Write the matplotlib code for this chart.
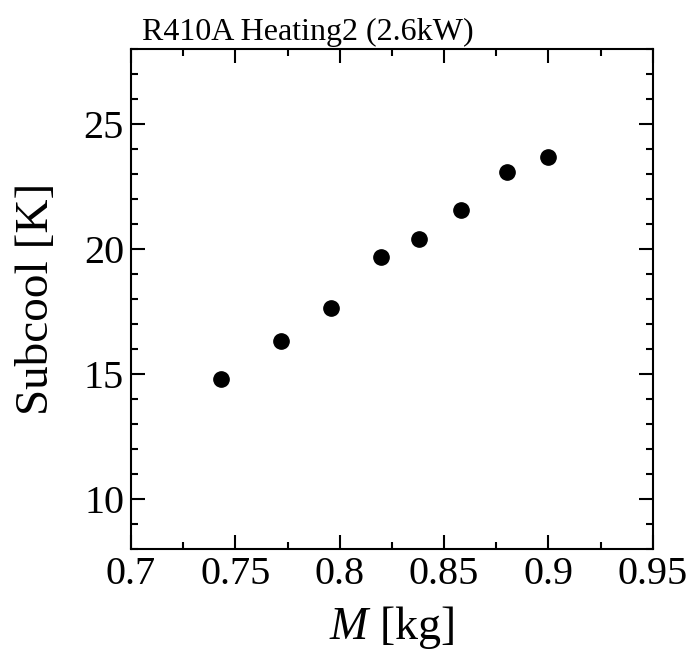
import numpy as np
import matplotlib
matplotlib.use("Agg")
import matplotlib.pyplot as plt
from matplotlib.ticker import MultipleLocator

# charge mass vs subcooling
mass = [0.743, 0.772, 0.796, 0.820, 0.838, 0.858, 0.880, 0.900]
subcool = [14.79, 16.32, 17.65, 19.69, 20.39, 21.57, 23.09, 23.69]

plt.rcParams['font.family'] = ['Liberation Serif', 'DejaVu Serif']
plt.rcParams['mathtext.fontset'] = 'custom'
plt.rcParams['mathtext.it'] = 'Liberation Serif:italic'
plt.rcParams['mathtext.rm'] = 'Liberation Serif'

fig = plt.figure(figsize=(6.93, 6.52), dpi=100)
ax = fig.add_axes([0.189, 0.158, 0.753, 0.767])

ax.plot(mass, subcool, 'o', color='black', ms=11, ls='none')

ax.set_xlim(0.7, 0.95)
ax.set_ylim(8, 28)
ax.xaxis.set_minor_locator(MultipleLocator(0.025))
ax.yaxis.set_minor_locator(MultipleLocator(1))
ax.set_xticks([0.7, 0.75, 0.8, 0.85, 0.9, 0.95])
ax.set_xticklabels(['0.7', '0.75', '0.8', '0.85', '0.9', '0.95'])
ax.set_yticks([10, 15, 20, 25])

ax.tick_params(which='both', direction='in', top=True, right=True, width=1.5, labelsize=29)
ax.tick_params(which='major', length=10, pad=5)
ax.tick_params(which='minor', length=5)
for s in ax.spines.values():
    s.set_linewidth(1.5)

ax.set_xlabel('$M$ [kg]', fontsize=33)
ax.set_ylabel('Subcool [K]', fontsize=34)
ax.xaxis.set_label_coords(0.5, -0.111)
ax.yaxis.set_label_coords(-0.139, 0.5)
ax.text(0.022, 1.018, 'R410A Heating2 (2.6kW)', transform=ax.transAxes,
        fontsize=23, ha='left', va='baseline')

fig.savefig('out.png', dpi=100)
